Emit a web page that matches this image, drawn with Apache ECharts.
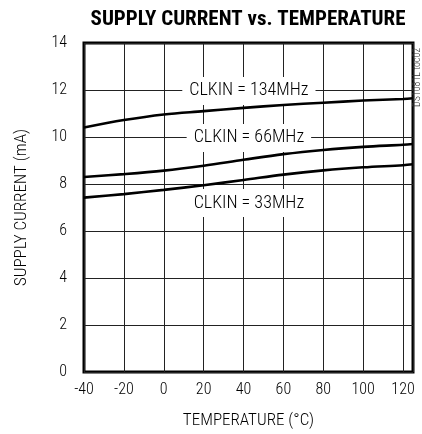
<!DOCTYPE html>
<html>
<head>
<meta charset="utf-8">
<script src="https://cdn.jsdelivr.net/npm/echarts@6/dist/echarts.min.js"></script>
<style>
html,body{margin:0;padding:0;background:#fff;}
#chart{width:422px;height:434px;}
</style>
</head>
<body>
<div id="chart"></div>
<script>
var temps = [-40, -20, 0, 20, 40, 60, 80, 100, 120, 125];
var current134 = [10.4, 10.72, 10.96, 11.1, 11.24, 11.36, 11.46, 11.55, 11.62, 11.65];
var current66 = [8.3, 8.42, 8.57, 8.78, 9.03, 9.27, 9.45, 9.58, 9.67, 9.7];
var current33 = [7.42, 7.57, 7.75, 7.95, 8.17, 8.4, 8.58, 8.71, 8.8, 8.84];
var seriesNames = ['CLKIN = 134MHz', 'CLKIN = 66MHz', 'CLKIN = 33MHz'];
var labelAnchors = [[42.7, 11.96], [42.7, 9.96], [42.7, 7.19]];

var FONT = '"Roboto Condensed", "DejaVu Sans Condensed", sans-serif';

function pairs(xs, ys) { return xs.map(function (x, i) { return [x, ys[i]]; }); }

var chart = echarts.init(document.getElementById('chart'), null, {renderer: 'canvas'});
var lineStyle = {color: '#000', width: 2.6};
var option = {
  animation: false,
  backgroundColor: '#fff',
  title: {
    text: 'SUPPLY CURRENT vs. TEMPERATURE',
    left: 243, top: 4, textAlign: 'center',
    textStyle: {fontFamily: FONT, fontWeight: 'bold', fontSize: 21, color: '#000'}
  },
  grid: {left: 84, right: 9, top: 43, bottom: 62, show: true, borderColor: '#000', borderWidth: 3, backgroundColor: 'transparent'},
  xAxis: {
    type: 'value', min: -40, max: 125, interval: 20,
    name: 'TEMPERATURE (°C)', nameLocation: 'middle', nameGap: 40,
    nameTextStyle: {fontFamily: FONT, fontWeight: 300, fontSize: 17, color: '#000'},
    axisLine: {show: false}, axisTick: {show: false},
    axisLabel: {fontFamily: FONT, fontWeight: 300, fontSize: 16, color: '#000', margin: 10, showMaxLabel: false},
    splitLine: {show: true, lineStyle: {color: '#222', width: 1}}
  },
  yAxis: {
    type: 'value', min: 0, max: 14, interval: 2,
    name: 'SUPPLY CURRENT (mA)', nameLocation: 'middle', nameGap: 54,
    nameTextStyle: {fontFamily: FONT, fontWeight: 300, fontSize: 17, color: '#000'},
    axisLine: {show: false}, axisTick: {show: false},
    axisLabel: {fontFamily: FONT, fontWeight: 300, fontSize: 16, color: '#000', margin: 17},
    splitLine: {show: true, lineStyle: {color: '#222', width: 1}}
  },
  series: [
    {type: 'line', data: pairs(temps, current134), smooth: 0.35, symbol: 'none', lineStyle: lineStyle, z: 5},
    {type: 'line', data: pairs(temps, current66), smooth: 0.35, symbol: 'none', lineStyle: lineStyle, z: 5},
    {type: 'line', data: pairs(temps, current33), smooth: 0.35, symbol: 'none', lineStyle: lineStyle, z: 5},
    {
      type: 'scatter', symbolSize: 0, z: 4,
      itemStyle: {opacity: 1},
      data: labelAnchors.map(function (p, i) { return {value: p, name: seriesNames[i]}; }),
      label: {
        show: true, position: 'inside', formatter: '{b}',
        fontFamily: FONT, fontWeight: 300, fontSize: 18, color: '#000', opacity: 1,
        backgroundColor: '#fff', padding: [5, 7]
      }
    }
  ],
  graphic: [{
    type: 'text', x: 417, y: 107, rotation: Math.PI / 2,
    style: {text: 'DS1081L toc02', fontFamily: FONT, fontWeight: 300, fontSize: 10, fill: '#333', textAlign: 'left', textVerticalAlign: 'middle'}
  }]
};
chart.setOption(option);
</script>
</body>
</html>
